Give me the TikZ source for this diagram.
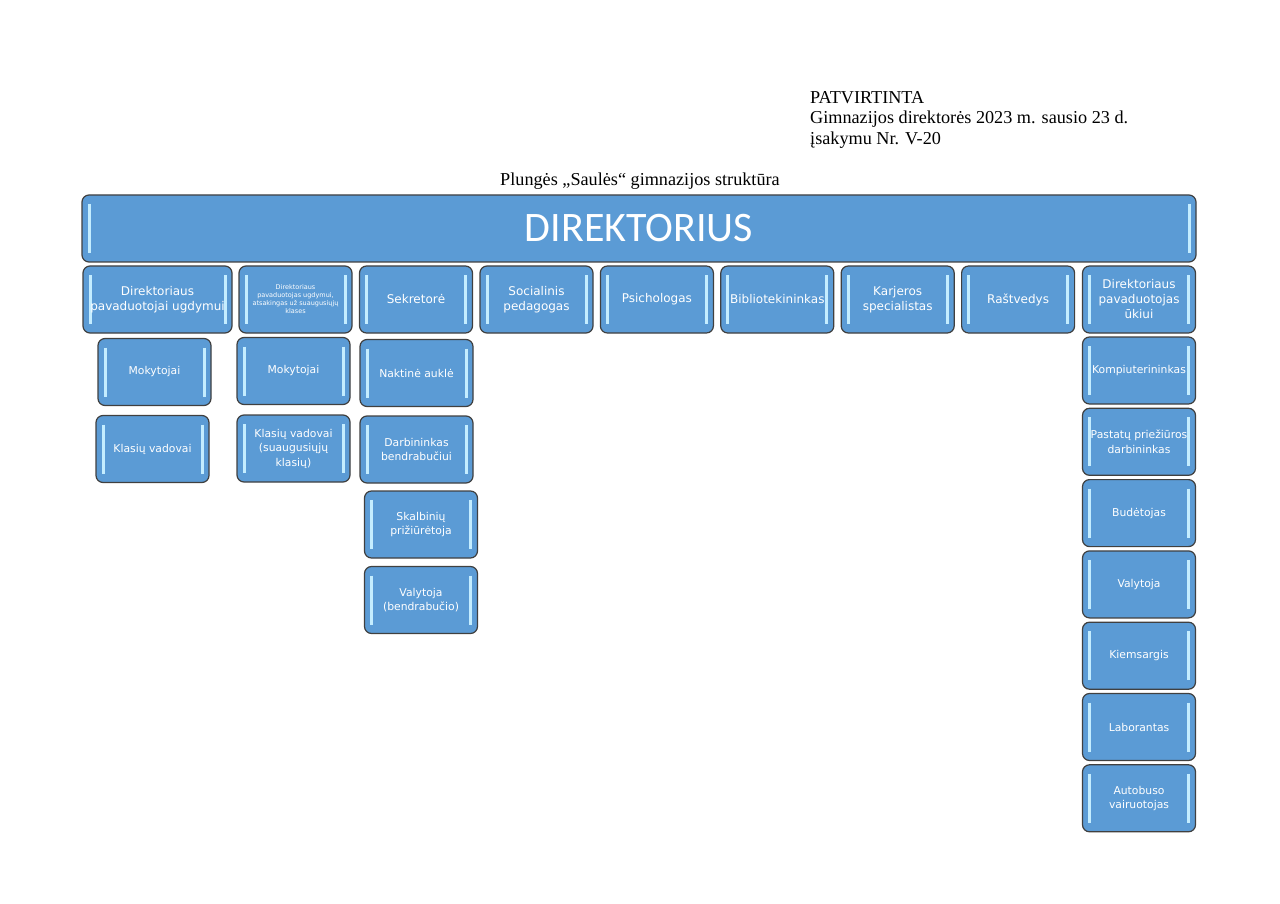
\documentclass[tikz,border=0pt]{standalone}
\usepackage{fontspec}
\setmainfont{Liberation Serif}
\newfontfamily\boxfont{DejaVu Sans}
\newfontfamily\headfont{Carlito}
\definecolor{boxblue}{RGB}{91,155,213}
\definecolor{boxline}{RGB}{64,64,64}
\definecolor{glossline}{RGB}{196,237,255}
\tikzset{
  unit/.style={draw=boxline, line width=1.2pt, fill=boxblue, rounded corners=7pt,
    text=white, align=center, inner sep=1pt, minimum width=113pt, minimum height=67pt,
    font=\boxfont\fontsize{10.8}{14.5}\selectfont,
    path picture={
      \draw[glossline, line width=3pt, sharp corners]
        ([xshift=7pt,yshift=-9pt]path picture bounding box.north west) --
        ([xshift=7pt,yshift=9pt]path picture bounding box.south west);
      \draw[glossline, line width=3pt, sharp corners]
        ([xshift=-7pt,yshift=-9pt]path picture bounding box.north east) --
        ([xshift=-7pt,yshift=9pt]path picture bounding box.south east);}},
  toprow/.style={unit, font=\boxfont\fontsize{12}{15}\selectfont},
  paper/.style={font=\fontsize{18.2}{20.7}\selectfont, inner sep=0pt}
}
\begin{document}
\begin{tikzpicture}[x=1pt,y=-1pt]
  \useasboundingbox (0,0) rectangle (1280,904);
  \node[paper, align=left, anchor=north west] (patvirtinta) at (810,91)
    {PATVIRTINTA\\Gimnazijos direktorės 2023 m. sausio 23 d.\\įsakymu Nr. V-20};
  \node[paper] (pavadinimas) at (640,181) {Plungės „Saulės“ gimnazijos struktūra};

  \node[unit, minimum width=1114pt, font=\headfont\fontsize{42}{46}\selectfont] (direktorius) at (639,228.5) {DIREKTORIUS};

  \node[toprow, minimum width=149pt] (ugdymas) at (157.5,299.5) {Direktoriaus\\pavaduotojai ugdymui};
  \node[toprow, font=\boxfont\fontsize{6.5}{8}\selectfont] (suaugusieji) at (295.5,299.5)
    {Direktoriaus\\pavaduotojas ugdymui,\\atsakingas už suaugusiųjų\\klases};
  \node[toprow] (sekretore) at (416,299.5) {Sekretorė};
  \foreach \name/\txt [count=\i from 0] in {socialinis/Socialinis\\pedagogas, psichologas/Psichologas,
      biblioteka/Bibliotekininkas, karjera/Karjeros\\specialistas, rastvedys/Raštvedys}
    \node[toprow] (\name) at (536.5+120.4*\i,299.5) {\txt};
  \node[toprow] (ukis) at (1139,299.5) {Direktoriaus\\pavaduotojas\\ūkiui};

  \node[unit] (mokytojai) at (154.5,372) {Mokytojai};
  \node[unit] (vadovai) at (152.5,449) {Klasių vadovai};
  \node[unit] (mokytojai2) at (293.5,371) {Mokytojai};
  \node[unit] (vadovai2) at (293.5,448.5) {Klasių vadovai\\(suaugusiųjų\\klasių)};

  \node[unit] (aukle) at (416.5,373) {Naktinė auklė};
  \node[unit] (darbininkas) at (416.5,449.5) {Darbininkas\\bendrabučiui};
  \node[unit] (skalbiniai) at (421,524.5) {Skalbinių\\prižiūrėtoja};
  \node[unit] (valytoja2) at (421,600) {Valytoja\\(bendrabučio)};

  \foreach \name/\txt [count=\i from 0] in {kompiuteris/Kompiuterininkas, pastatai/Pastatų priežiūros\\darbininkas,
      budetojas/Budėtojas, valytoja/Valytoja, kiemsargis/Kiemsargis, laborantas/Laborantas,
      autobusas/Autobuso\\vairuotojas}
    \node[unit] (\name) at (1139,370.5+71.3*\i) {\txt};
\end{tikzpicture}
\end{document}
